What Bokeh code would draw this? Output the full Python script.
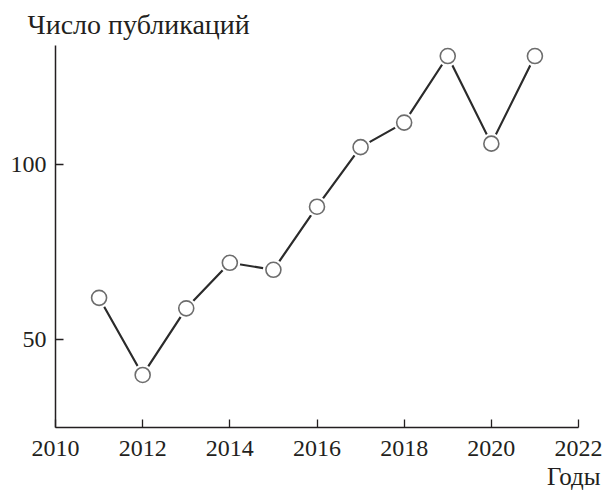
from bokeh.plotting import figure
from bokeh.models import Range1d, FixedTicker, Title
from bokeh.embed import file_html
from bokeh.resources import INLINE

years = [2011, 2012, 2013, 2014, 2015, 2016, 2017, 2018, 2019, 2020, 2021]
counts = [62, 40, 59, 72, 70, 88, 105, 112, 131, 106, 131]
x_ticks = [2010, 2012, 2014, 2016, 2018, 2020, 2022]
y_ticks = [50, 100]
y_title = "Число публикаций"
x_title = "Годы"

FONT = "Liberation Serif"
INK = "#231f20"

p = figure(width=605, height=492, output_backend="svg", toolbar_location=None,
           x_range=Range1d(2010, 2022), y_range=Range1d(25, 134),
           min_border_left=55, min_border_right=27, min_border_top=45, min_border_bottom=64)
p.outline_line_color = None
p.grid.visible = False

for ax in (p.xaxis[0], p.yaxis[0]):
    ax.axis_line_color = INK
    ax.axis_line_width = 1.5
    ax.major_tick_line_color = INK
    ax.major_tick_line_width = 1.3
    ax.major_tick_in = 8
    ax.major_tick_out = 0
    ax.minor_tick_line_color = None
    ax.major_label_text_font = FONT
    ax.major_label_text_font_size = "24px"
    ax.major_label_text_color = INK

p.xaxis[0].ticker = FixedTicker(ticks=x_ticks)
p.yaxis[0].ticker = FixedTicker(ticks=y_ticks)
p.xaxis[0].major_label_standoff = 13
p.yaxis[0].major_label_standoff = 9

p.line(years, counts, line_color="#2b2b2b", line_width=2.2)
p.scatter(years, counts, size=21, fill_color="white", line_color=None)
p.scatter(years, counts, size=15, fill_color="white", line_color="#6d6d6d", line_width=1.6)

p.title.text = y_title
p.title.align = "left"
p.title.offset = -28
p.title.text_font = FONT
p.title.text_font_size = "28px"
p.title.text_font_style = "normal"
p.title.text_color = INK
p.title.standoff = 12

t2 = Title(text=x_title, align="right", offset=-22, text_font=FONT, text_font_size="25px",
           text_font_style="normal", text_color=INK, standoff=5)
p.add_layout(t2, "below")

open("out.html", "w").write(file_html(p, INLINE))
